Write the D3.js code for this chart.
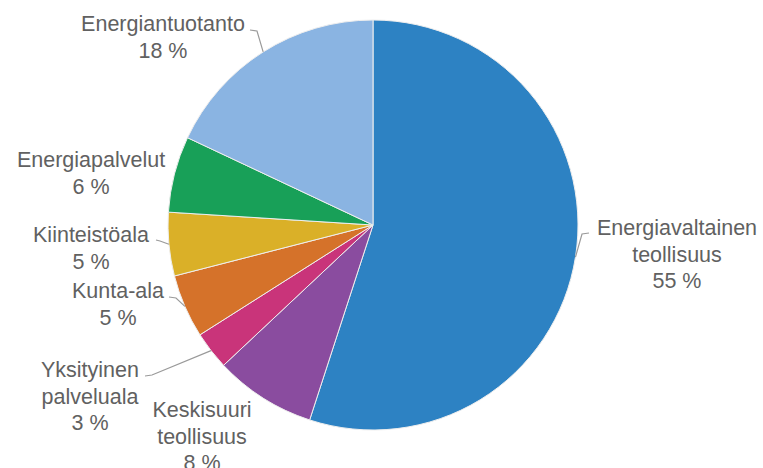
<!DOCTYPE html>
<html>
<head>
<meta charset="utf-8">
<script src="https://cdn.jsdelivr.net/npm/d3@7"></script>
<style>
  html, body { margin: 0; padding: 0; background: #ffffff; }
  svg { display: block; }
</style>
</head>
<body>
<svg id="chart" width="763" height="468"></svg>
<script>
// ---- Data ----
const categories = [
  "Energiavaltainen teollisuus",
  "Keskisuuri teollisuus",
  "Yksityinen palveluala",
  "Kunta-ala",
  "Kiinteistöala",
  "Energiapalvelut",
  "Energiantuotanto"
];
const values = [55, 8, 3, 5, 5, 6, 18];
const labelLines = [
  ["Energiavaltainen", "teollisuus", "55 %"],
  ["Keskisuuri", "teollisuus", "8 %"],
  ["Yksityinen", "palveluala", "3 %"],
  ["Kunta-ala", "5 %"],
  ["Kiinteistöala", "5 %"],
  ["Energiapalvelut", "6 %"],
  ["Energiantuotanto", "18 %"]
];
const colors = ["#2d82c3", "#8a4c9f", "#c9347a", "#d5722a", "#dab028", "#18a058", "#8ab4e2"];

// ---- Layout (positions/styles) ----
const cx = 373, cy = 225, R = 205;
const lineH = 26.5;
// label anchor: center x, first baseline y; leader: elbow start (label side) or null
const labelLayout = [
  { x: 677, y: 235, leader: [[589, 233], [582, 234]] },
  { x: 202, y: 417, leader: null },
  { x: 90,  y: 377, leader: [[145, 376], [152, 375]] },
  { x: 118, y: 298, leader: [[169, 297], [176, 298]] },
  { x: 91,  y: 242, leader: [[156, 240], [160, 241]] },
  { x: 91,  y: 167, leader: null },
  { x: 163, y: 31,  leader: [[250, 30], [257, 31]] }
];

const svg = d3.select("#chart");
const g = svg.append("g").attr("transform", `translate(${cx},${cy})`);

const pie = d3.pie().sort(null).value(d => d);
const arcs = pie(values);
const arc = d3.arc().innerRadius(0).outerRadius(R);
const color = d3.scaleOrdinal().domain(categories).range(colors);

g.selectAll("path.slice")
  .data(arcs)
  .enter().append("path")
  .attr("class", "slice")
  .attr("d", arc)
  .attr("fill", (d, i) => color(categories[i]))
  .attr("stroke", "#eeeeee")
  .attr("stroke-width", 1);

// leader lines
arcs.forEach((d, i) => {
  const L = labelLayout[i];
  if (!L.leader) return;
  const mid = (d.startAngle + d.endAngle) / 2;
  const px = cx + R * Math.sin(mid);
  const py = cy - R * Math.cos(mid);
  const pts = L.leader.concat([[px, py]]);
  svg.append("path")
    .attr("d", d3.line()(pts))
    .attr("fill", "none")
    .attr("stroke", "#9a9a9a")
    .attr("stroke-width", 1.2);
});

// labels
labelLayout.forEach((L, i) => {
  const t = svg.append("text")
    .attr("text-anchor", "middle")
    .attr("font-family", "'Liberation Sans', Arial, sans-serif")
    .attr("font-size", "21.5px")
    .attr("fill", "#616161");
  labelLines[i].forEach((ln, k) => {
    t.append("tspan").attr("x", L.x).attr("y", L.y + k * lineH).text(ln);
  });
});
</script>
</body>
</html>
